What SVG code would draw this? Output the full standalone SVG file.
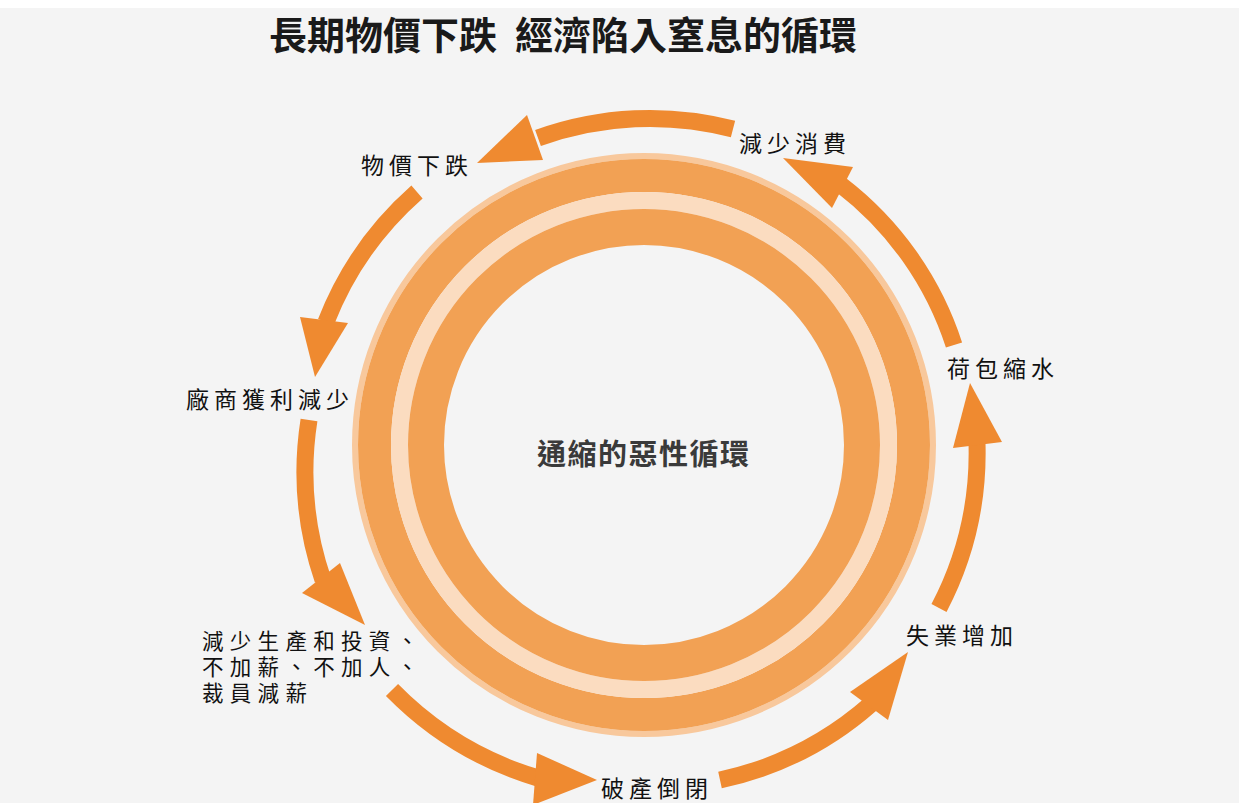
<svg xmlns="http://www.w3.org/2000/svg" width="1239" height="803" viewBox="0 0 1239 803">
<style>
.lbl{font-family:"Noto Sans CJK TC","Noto Sans CJK SC",sans-serif;font-size:23px;letter-spacing:5px;fill:#111}
.lbl2{font-family:"Noto Sans CJK TC","Noto Sans CJK SC",sans-serif;font-size:21.5px;letter-spacing:6.3px;fill:#111}
.title{font-family:"Noto Sans CJK TC","Noto Sans CJK SC",sans-serif;font-size:38px;font-weight:bold;fill:#1a1a1a}
.center{font-family:"Noto Sans CJK TC","Noto Sans CJK SC",sans-serif;font-size:29px;font-weight:bold;letter-spacing:1.5px;fill:#3a3a3a}
.shaft{fill:none;stroke:#EF8A30;stroke-width:17}
.head{fill:#EF8A30}
</style>
<rect x="0" y="0" width="1239" height="803" fill="#ffffff"/>
<rect x="0" y="8" width="1239" height="795" fill="#f4f4f4"/>
<g id="title"><text class="title" x="269" y="49">長期物價下跌</text><text class="title" x="515" y="49">經濟陷入窒息的循環</text></g>
<g id="ring">
<circle cx="644" cy="445" r="289" fill="none" stroke="#F8C89C" stroke-width="6"/>
<circle cx="644" cy="445" r="269.5" fill="none" stroke="#F2A154" stroke-width="33"/>
<circle cx="644" cy="445" r="244.5" fill="none" stroke="#FBDCC0" stroke-width="17"/>
<circle cx="644" cy="445" r="218" fill="none" stroke="#F2A154" stroke-width="36"/>
<text class="center" x="537" y="465">通縮的惡性循環</text>
</g>
<g id="connectors">
<path class="shaft" d="M 733 129 A 330 330 0 0 0 538 138"/>
<polygon class="head" points="527,115 477,163 543,160"/>
<path class="shaft" d="M 417 192 A 335 335 0 0 0 326 322"/>
<polygon class="head" points="300,317 315,377 348,323"/>
<path class="shaft" d="M 309 420 A 335 335 0 0 0 323 580"/>
<polygon class="head" points="302,593 365,625 340,563"/>
<path class="shaft" d="M 392 690 A 340 340 0 0 0 538 778"/>
<polygon class="head" points="537,753 597,780 533,805"/>
<path class="shaft" d="M 720 780 A 335 335 0 0 0 871 704"/>
<polygon class="head" points="850,692 908,652 888,720"/>
<path class="shaft" d="M 939 608 A 335 335 0 0 0 977 443"/>
<polygon class="head" points="953,448 970,383 1002,442"/>
<path class="shaft" d="M 954 345 A 330 330 0 0 0 841 185"/>
<polygon class="head" points="853,167 783,158 832,208"/>
</g>
<g id="n1"><text class="lbl" x="361" y="174">物價下跌</text></g>
<g id="n2"><text class="lbl" x="186" y="408">廠商獲利減少</text></g>
<g id="n3"><text class="lbl2"><tspan x="202" y="649">減少生產和投資、</tspan><tspan x="202" y="675">不加薪、不加人、</tspan><tspan x="202" y="701">裁員減薪</tspan></text></g>
<g id="n4"><text class="lbl" x="601" y="797">破產倒閉</text></g>
<g id="n5"><text class="lbl" x="906" y="644">失業增加</text></g>
<g id="n6"><text class="lbl" x="947" y="377">荷包縮水</text></g>
<g id="n7"><text class="lbl" x="739" y="152">減少消費</text></g>
</svg>
